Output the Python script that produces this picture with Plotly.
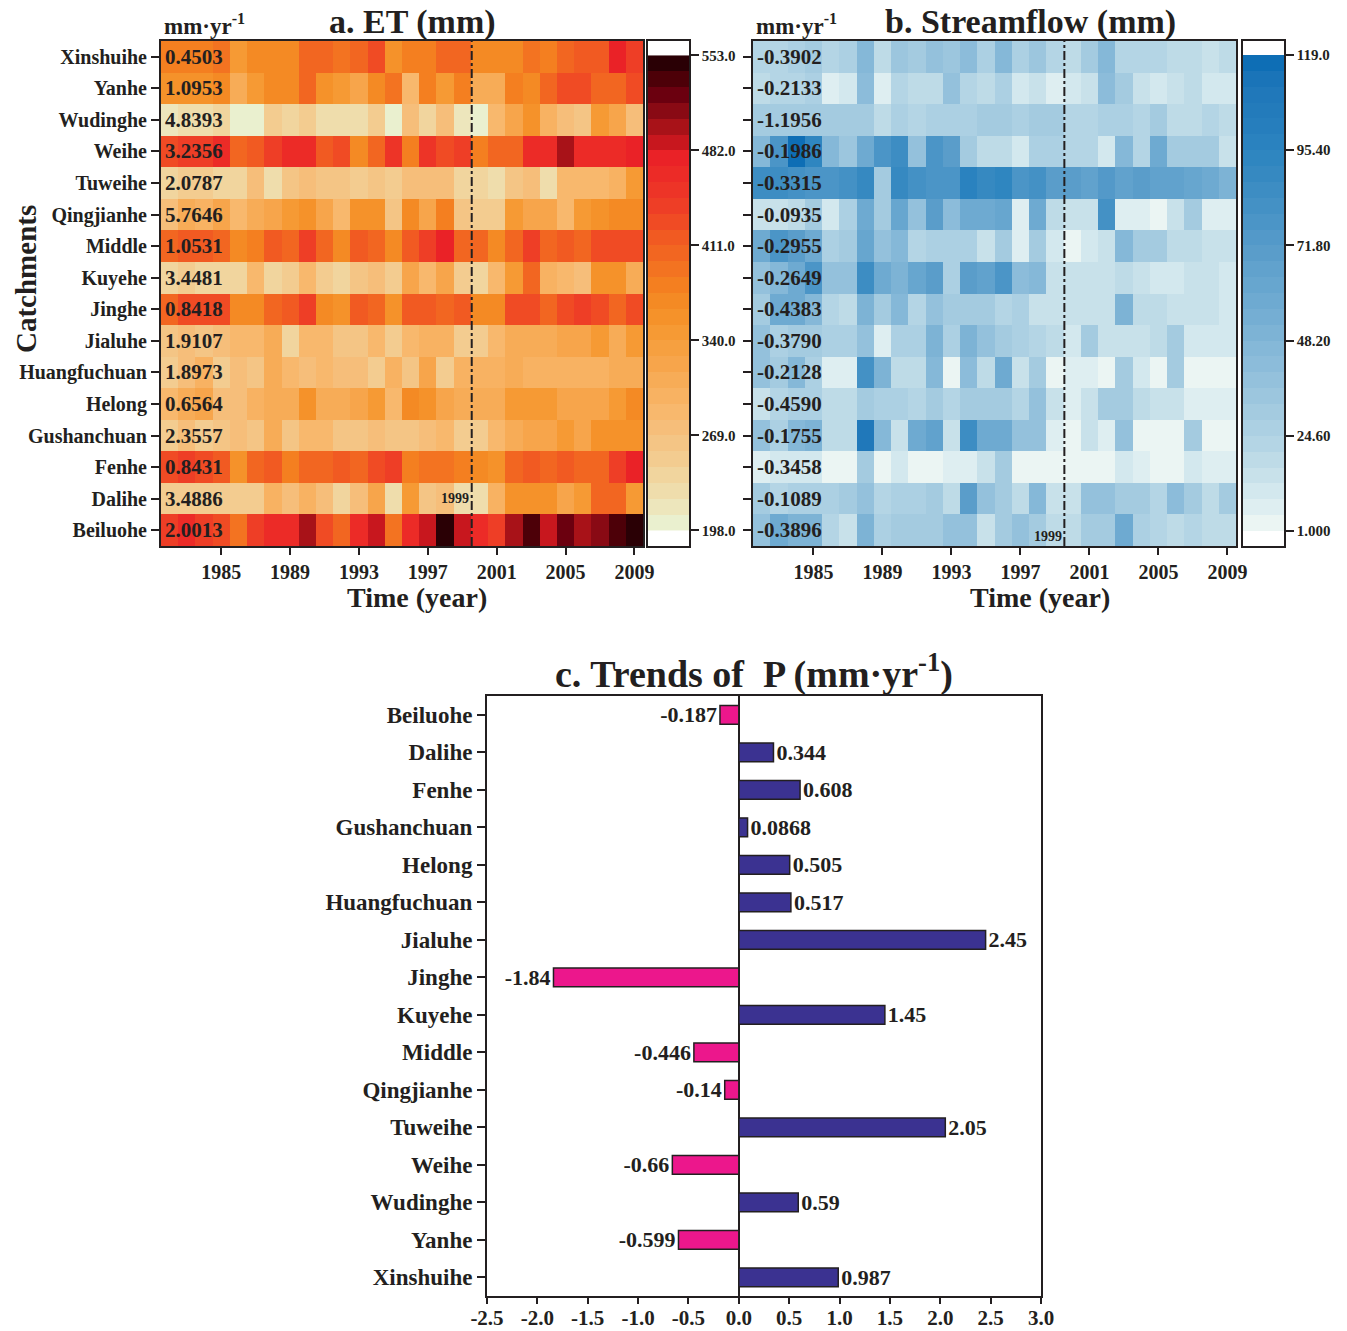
import plotly.graph_objects as go

# ---------------- data ----------------
years = list(range(1982, 2010))
catchments = ["Xinshuihe", "Yanhe", "Wudinghe", "Weihe", "Tuweihe", "Qingjianhe", "Middle",
              "Kuyehe", "Jinghe", "Jialuhe", "Huangfuchuan", "Helong", "Gushanchuan",
              "Fenhe", "Dalihe", "Beiluohe"]

et_trend = [0.4503, 1.0953, 4.8393, 3.2356, 2.0787, 5.7646, 1.0531, 3.4481, 0.8418,
            1.9107, 1.8973, 0.6564, 2.3557, 0.8431, 3.4886, 2.0013]
sf_trend = [-0.3902, -0.2133, -1.1956, -0.1986, -0.3315, -0.0935, -0.2955, -0.2649,
            -0.4383, -0.3790, -0.2128, -0.4590, -0.1755, -0.3458, -0.1089, -0.3896]

# ET (mm), rows = catchments (top to bottom), columns = 1982..2009
et_xinshuihe = [381, 381, 381, 393, 346, 370, 375, 375, 405, 405, 393, 405, 430, 360, 381, 381, 405, 400, 370, 370, 375, 393, 381, 405, 417, 417, 476, 445]
et_yanhe = [358, 358, 360, 365, 311, 346, 370, 370, 405, 358, 346, 322, 370, 393, 287, 381, 346, 381, 311, 311, 381, 370, 405, 429, 429, 405, 405, 429]
et_wudinghe = [216, 222, 228, 240, 204, 206, 252, 240, 252, 228, 228, 228, 252, 204, 275, 240, 275, 216, 204, 287, 322, 358, 299, 275, 263, 346, 322, 275]
et_weihe = [429, 441, 441, 470, 405, 417, 441, 460, 470, 417, 429, 370, 405, 452, 381, 452, 429, 441, 381, 405, 405, 464, 464, 500, 470, 470, 470, 476]
et_tuweihe = [240, 252, 252, 240, 240, 275, 228, 263, 275, 263, 263, 252, 263, 252, 270, 270, 270, 240, 240, 232, 263, 275, 230, 287, 287, 287, 299, 346]
et_qingjianhe = [275, 311, 299, 322, 287, 311, 322, 346, 358, 322, 287, 358, 358, 263, 370, 322, 381, 263, 252, 252, 346, 322, 322, 287, 346, 358, 370, 370]
et_middle = [405, 417, 417, 405, 370, 381, 417, 405, 445, 405, 370, 417, 405, 370, 417, 441, 476, 405, 405, 370, 405, 441, 405, 417, 405, 429, 429, 429]
et_kuyehe = [240, 252, 240, 240, 240, 287, 240, 252, 287, 252, 240, 263, 275, 252, 322, 287, 322, 252, 238, 287, 346, 405, 299, 287, 275, 358, 358, 311]
et_jinghe = [405, 429, 429, 429, 370, 370, 405, 417, 435, 370, 358, 417, 405, 358, 417, 417, 405, 417, 375, 375, 432, 432, 405, 429, 441, 429, 405, 429]
et_jialuhe = [263, 275, 263, 275, 287, 287, 311, 240, 287, 287, 263, 263, 287, 252, 287, 299, 299, 255, 252, 287, 311, 311, 311, 322, 322, 341, 311, 341]
et_huangfuchuan = [252, 275, 299, 252, 275, 263, 311, 287, 275, 287, 275, 275, 252, 299, 263, 322, 252, 299, 299, 299, 311, 299, 299, 299, 299, 299, 305, 311]
et_helong = [287, 311, 322, 275, 275, 299, 311, 311, 358, 311, 311, 322, 346, 287, 370, 358, 322, 311, 311, 311, 346, 346, 346, 322, 322, 322, 341, 365]
et_gushanchuan = [252, 275, 252, 263, 275, 263, 311, 263, 287, 287, 263, 263, 275, 263, 263, 275, 287, 252, 252, 287, 311, 322, 322, 346, 322, 358, 358, 358]
et_fenhe = [429, 441, 429, 417, 358, 405, 417, 381, 405, 405, 417, 405, 429, 441, 381, 393, 393, 381, 370, 358, 405, 417, 405, 417, 405, 405, 441, 476]
et_dalihe = [252, 252, 252, 252, 252, 252, 299, 275, 299, 275, 240, 275, 322, 230, 346, 263, 275, 230, 228, 299, 358, 358, 358, 322, 346, 405, 405, 346]
et_beiluohe = [441, 470, 441, 429, 393, 441, 460, 470, 500, 429, 405, 460, 488, 393, 460, 488, 547, 488, 460, 441, 500, 535, 488, 523, 500, 512, 535, 547]

# Streamflow (mm)
sf_xinshuihe = [23, 23, 27, 30, 23, 27, 46, 19, 34, 30, 38, 34, 42, 27, 46, 27, 34, 23, 19, 30, 46, 23, 23, 23, 19, 19, 15, 19]
sf_yanhe = [19, 23, 23, 27, 7, 11, 42, 5, 23, 19, 19, 38, 23, 19, 27, 11, 15, 7, 11, 15, 42, 30, 15, 11, 15, 19, 11, 11]
sf_wudinghe = [30, 30, 30, 30, 30, 30, 30, 19, 27, 23, 27, 27, 27, 30, 30, 27, 30, 30, 23, 23, 27, 27, 23, 30, 19, 19, 23, 19]
sf_weihe = [46, 78, 117, 93, 46, 34, 58, 78, 85, 38, 78, 70, 30, 19, 19, 9, 27, 27, 23, 23, 11, 46, 23, 58, 30, 30, 30, 15]
sf_tuweihe = [85, 85, 81, 78, 78, 81, 89, 30, 89, 81, 78, 78, 97, 89, 93, 78, 81, 70, 70, 66, 74, 66, 70, 66, 66, 62, 58, 50]
sf_qingjianhe = [15, 15, 19, 30, 11, 27, 58, 30, 62, 38, 70, 42, 58, 58, 62, 5, 58, 19, 15, 15, 81, 7, 7, 3, 15, 30, 7, 5]
sf_middle = [58, 78, 70, 58, 27, 30, 62, 38, 46, 23, 27, 27, 27, 15, 30, 5, 30, 11, 3, 11, 15, 46, 30, 30, 19, 19, 15, 15]
sf_kuyehe = [38, 46, 58, 78, 38, 38, 85, 58, 50, 62, 70, 27, 70, 66, 78, 42, 46, 15, 15, 15, 15, 19, 15, 11, 11, 15, 15, 11]
sf_jinghe = [30, 58, 58, 46, 23, 19, 50, 30, 46, 23, 38, 30, 30, 30, 23, 25, 15, 15, 15, 15, 15, 50, 19, 19, 15, 15, 15, 11]
sf_jialuhe = [38, 27, 30, 30, 27, 27, 38, 5, 27, 27, 50, 27, 50, 38, 30, 27, 23, 19, 11, 30, 15, 15, 15, 19, 30, 11, 11, 11]
sf_huangfuchuan = [38, 30, 46, 27, 7, 7, 81, 50, 19, 19, 46, 4, 42, 19, 58, 15, 30, 3, 5, 5, 3, 30, 11, 2, 30, 2, 3, 3]
sf_helong = [15, 23, 27, 27, 19, 19, 30, 27, 27, 23, 30, 23, 30, 30, 30, 23, 38, 15, 7, 15, 30, 30, 19, 15, 15, 7, 7, 5]
sf_gushanchuan = [38, 27, 46, 50, 19, 19, 109, 46, 15, 58, 66, 15, 85, 58, 58, 38, 38, 5, 3, 15, 7, 38, 3, 3, 3, 30, 3, 3]
sf_fenhe = [7, 11, 11, 11, 3, 3, 30, 3, 11, 3, 3, 7, 7, 15, 30, 3, 3, 3, 2, 2, 3, 11, 7, 3, 3, 11, 7, 7]
sf_dalihe = [30, 23, 27, 27, 27, 30, 38, 23, 27, 27, 30, 19, 70, 38, 30, 19, 46, 15, 15, 38, 38, 30, 30, 23, 42, 30, 19, 30]
sf_beiluohe = [38, 58, 50, 50, 23, 15, 50, 27, 30, 30, 30, 38, 38, 15, 30, 38, 30, 19, 19, 30, 30, 58, 27, 23, 19, 23, 19, 19]

et_matrix = [et_xinshuihe, et_yanhe, et_wudinghe, et_weihe, et_tuweihe, et_qingjianhe, et_middle,
             et_kuyehe, et_jinghe, et_jialuhe, et_huangfuchuan, et_helong, et_gushanchuan,
             et_fenhe, et_dalihe, et_beiluohe]
sf_matrix = [sf_xinshuihe, sf_yanhe, sf_wudinghe, sf_weihe, sf_tuweihe, sf_qingjianhe, sf_middle,
             sf_kuyehe, sf_jinghe, sf_jialuhe, sf_huangfuchuan, sf_helong, sf_gushanchuan,
             sf_fenhe, sf_dalihe, sf_beiluohe]

et_cbar_ticks = [198.0, 269.0, 340.0, 411.0, 482.0, 553.0]
et_cbar_labels = ["198.0", "269.0", "340.0", "411.0", "482.0", "553.0"]
sf_cbar_ticks = [1.0, 24.6, 48.2, 71.8, 95.4, 119.0]
sf_cbar_labels = ["1.000", "24.60", "48.20", "71.80", "95.40", "119.0"]
year_ticks = [1985, 1989, 1993, 1997, 2001, 2005, 2009]
break_year = 1999

p_catchments = ["Beiluohe", "Dalihe", "Fenhe", "Gushanchuan", "Helong", "Huangfuchuan",
                "Jialuhe", "Jinghe", "Kuyehe", "Middle", "Qingjianhe", "Tuweihe", "Weihe",
                "Wudinghe", "Yanhe", "Xinshuihe"]
p_trend = [-0.187, 0.344, 0.608, 0.0868, 0.505, 0.517, 2.45, -1.84, 1.45, -0.446, -0.14,
           2.05, -0.66, 0.59, -0.599, 0.987]
p_ticks = [-2.5, -2.0, -1.5, -1.0, -0.5, 0.0, 0.5, 1.0, 1.5, 2.0, 2.5, 3.0]

# ---------------- styles ----------------
W, H = 1347, 1331
FONT = "Liberation Serif"
INK = "#231F20"

et_colors = ["#EAF0CF", "#EDE6BC", "#EFDDAC", "#F1D59E", "#F3CC90", "#F4C585", "#F6BE7A",
             "#F8B86D", "#F8B262", "#F7AC57", "#F7A54B", "#F6A040", "#F69A34", "#F5922A",
             "#F48A24", "#F47F20", "#F37321", "#F26621", "#F15A22", "#F04B24", "#EE3E26",
             "#ED3427", "#EC2B27", "#EA2227", "#C8171E", "#A81218", "#890A14", "#6B000F",
             "#4D0008", "#2A0005"]
sf_colors = ["#EBF5F3", "#DEEEF1", "#D3E8EE", "#C8E1EA", "#BEDBE7", "#B4D5E5", "#ACD0E3",
             "#A4CBE0", "#9CC6DE", "#94C1DC", "#8CBCDA", "#85B8D8", "#7DB3D5", "#75AED3",
             "#6EAAD1", "#67A6CF", "#61A2CD", "#5A9DCA", "#5399C9", "#4B95C7", "#4491C5",
             "#3D8DC3", "#3689C1", "#2F86C0", "#2A82BF", "#267EBD", "#237BBB", "#2078BA",
             "#1A74B8", "#0E6EB5"]


def discrete(colors):
    n = len(colors)
    cs = []
    for i, c in enumerate(colors):
        cs.append([i / n, c])
        cs.append([(i + 1) / n, c])
    return cs


def fnt(size, color=INK):
    return dict(family=FONT, size=size, color=color, weight="bold")


def px(p):
    return p / W


def py(p):
    return 1 - p / H


def level_centers(lo, hi, n):
    step = (hi - lo) / n
    return [lo + (i + 0.5) * step for i in range(n)]


frame = dict(showline=True, linecolor=INK, linewidth=2, mirror=True, showgrid=False,
             zeroline=False, automargin=False)
thin_frame = dict(frame, linewidth=1.5)

fig = go.Figure()

rows = list(range(len(catchments)))
et_cs = discrete(et_colors)
sf_cs = discrete(sf_colors)
et_lo, et_hi = et_cbar_ticks[0], et_cbar_ticks[-1]
sf_lo, sf_hi = sf_cbar_ticks[0], sf_cbar_ticks[-1]

# main heatmaps
fig.add_trace(go.Heatmap(z=et_matrix, x=years, y=rows, colorscale=et_cs, zmin=et_lo, zmax=et_hi,
                         showscale=False, xaxis="x", yaxis="y", hoverinfo="skip"))
fig.add_trace(go.Heatmap(z=sf_matrix, x=years, y=rows, colorscale=sf_cs, zmin=sf_lo, zmax=sf_hi,
                         showscale=False, xaxis="x3", yaxis="y3", hoverinfo="skip"))

# colour bars drawn as thin heatmaps
et_lv = level_centers(et_lo, et_hi, len(et_colors))
sf_lv = level_centers(sf_lo, sf_hi, len(sf_colors))
fig.add_trace(go.Heatmap(z=[[v] for v in et_lv], x=[0], y=et_lv, colorscale=et_cs, zmin=et_lo,
                         zmax=et_hi, showscale=False, xaxis="x2", yaxis="y2", hoverinfo="skip"))
fig.add_trace(go.Heatmap(z=[[v] for v in sf_lv], x=[0], y=sf_lv, colorscale=sf_cs, zmin=sf_lo,
                         zmax=sf_hi, showscale=False, xaxis="x4", yaxis="y4", hoverinfo="skip"))

# bar chart
bar_colors = ["#3B3291" if v >= 0 else "#EC178C" for v in p_trend]
fig.add_trace(go.Bar(x=p_trend, y=p_catchments, orientation="h", width=0.5,
                     marker=dict(color=bar_colors, line=dict(color=INK, width=1.5)),
                     text=[str(v) for v in p_trend], textposition="outside",
                     constraintext="none", textfont=fnt(22), cliponaxis=False,
                     xaxis="x5", yaxis="y5", hoverinfo="skip"))

hm_top, hm_bot = 41, 546
hm_dom = [py(hm_bot), py(hm_top)]
cb_et_range = [186.4, 563.8]
cb_sf_range = [-2.72, 122.47]

fig.update_layout(
    width=W, height=H, autosize=False,
    margin=dict(l=0, r=0, t=0, b=0, pad=0, autoexpand=False),
    paper_bgcolor="white", plot_bgcolor="white",
    showlegend=False,
    font=fnt(20),
    xaxis=dict(domain=[px(161), px(643)], range=[1981.5, 2009.5], tickvals=year_ticks,
               ticks="outside", ticklen=7, tickwidth=2, tickcolor=INK, tickfont=fnt(20),
               anchor="y", **frame),
    yaxis=dict(domain=hm_dom, range=[15.5, -0.5], tickvals=rows, ticktext=catchments,
               ticks="outside", ticklen=8, tickwidth=2, tickcolor=INK, tickfont=fnt(20),
               anchor="x", **frame),
    xaxis2=dict(domain=[px(648), px(689)], range=[-0.5, 0.5], showticklabels=False,
                ticks="", anchor="y2", **thin_frame),
    yaxis2=dict(domain=hm_dom, range=cb_et_range, side="right", tickvals=et_cbar_ticks,
                ticktext=et_cbar_labels, ticks="outside", ticklen=8, tickwidth=1.5,
                tickcolor=INK, tickfont=fnt(15), anchor="x2", **thin_frame),
    xaxis3=dict(domain=[px(753), px(1236)], range=[1981.5, 2009.5], tickvals=year_ticks,
                ticks="outside", ticklen=7, tickwidth=2, tickcolor=INK, tickfont=fnt(20),
                anchor="y3", **frame),
    yaxis3=dict(domain=hm_dom, range=[15.5, -0.5], tickvals=rows, showticklabels=False,
                ticks="outside", ticklen=8, tickwidth=2, tickcolor=INK, anchor="x3", **frame),
    xaxis4=dict(domain=[px(1243), px(1284)], range=[-0.5, 0.5], showticklabels=False,
                ticks="", anchor="y4", **thin_frame),
    yaxis4=dict(domain=hm_dom, range=cb_sf_range, side="right", tickvals=sf_cbar_ticks,
                ticktext=sf_cbar_labels, ticks="outside", ticklen=8, tickwidth=1.5,
                tickcolor=INK, tickfont=fnt(15), anchor="x4", **thin_frame),
    xaxis5=dict(domain=[px(487), px(1041)], range=[-2.5, 3.0], tickvals=p_ticks,
                ticktext=[f"{t:.1f}" for t in p_ticks], ticks="outside", ticklen=6,
                tickwidth=2, tickcolor=INK, tickfont=fnt(21), anchor="y5",
                ticklabelstandoff=-4,
                showline=True, linecolor=INK, linewidth=2, mirror=True, showgrid=False,
                zeroline=True, zerolinecolor=INK, zerolinewidth=2, automargin=False),
    yaxis5=dict(domain=[py(1296), py(696)], type="category", categoryorder="array",
                categoryarray=p_catchments, autorange="reversed", ticks="outside",
                ticklen=8, tickwidth=2, tickcolor=INK, tickfont=fnt(23), anchor="x5", **frame),
)

# break-year dash-dot lines
for xa, ya in (("x", "y"), ("x3", "y3")):
    fig.add_shape(type="line", xref=xa, yref=f"{ya} domain", x0=break_year + 0.55,
                  x1=break_year + 0.55, y0=0, y1=1,
                  line=dict(color=INK, width=2, dash="dashdot"))

ann = []
for i, v in enumerate(et_trend):
    ann.append(dict(xref="x", yref="y", x=1981.5, y=i, text=f"{v:.4f}", xanchor="left",
                    yanchor="middle", xshift=2, showarrow=False, font=fnt(21)))
for i, v in enumerate(sf_trend):
    ann.append(dict(xref="x3", yref="y3", x=1981.5, y=i, text=f"{v:.4f}", xanchor="left",
                    yanchor="middle", xshift=2, showarrow=False, font=fnt(21)))

ann.append(dict(xref="x", yref="y", x=break_year + 0.5, y=14, text=str(break_year),
                xanchor="right", yanchor="middle", showarrow=False, font=fnt(14)))
ann.append(dict(xref="x3", yref="y3", x=break_year + 0.5, y=15, yshift=-6, text=str(break_year),
                xanchor="right", yanchor="middle", showarrow=False, font=fnt(14)))

# titles and labels
ann += [
    dict(xref="paper", yref="paper", x=px(412), y=py(22), text="a. ET (mm)", showarrow=False,
         xanchor="center", yanchor="middle", font=fnt(34)),
    dict(xref="paper", yref="paper", x=px(1030), y=py(22), text="b. Streamflow (mm)",
         showarrow=False, xanchor="center", yanchor="middle", font=fnt(34)),
    dict(xref="paper", yref="paper", x=px(162), y=py(24), text="mm·yr<sup>-1</sup>",
         showarrow=False, xanchor="left", yanchor="middle", font=fnt(23)),
    dict(xref="paper", yref="paper", x=px(754), y=py(24), text="mm·yr<sup>-1</sup>",
         showarrow=False, xanchor="left", yanchor="middle", font=fnt(23)),
    dict(xref="paper", yref="paper", x=px(417), y=py(597), text="Time (year)", showarrow=False,
         xanchor="center", yanchor="middle", font=fnt(28)),
    dict(xref="paper", yref="paper", x=px(1040), y=py(597), text="Time (year)",
         showarrow=False, xanchor="center", yanchor="middle", font=fnt(28)),
    dict(xref="paper", yref="paper", x=px(26), y=py(279), text="Catchments", textangle=-90,
         showarrow=False, xanchor="center", yanchor="middle", font=fnt(29)),
    dict(xref="paper", yref="paper", x=px(754), y=py(671),
         text="c. Trends of&nbsp; P (mm·yr<sup>-1</sup>)", showarrow=False,
         xanchor="center", yanchor="middle", font=fnt(38)),
]
fig.update_layout(annotations=ann)

fig.write_html("out.html")
